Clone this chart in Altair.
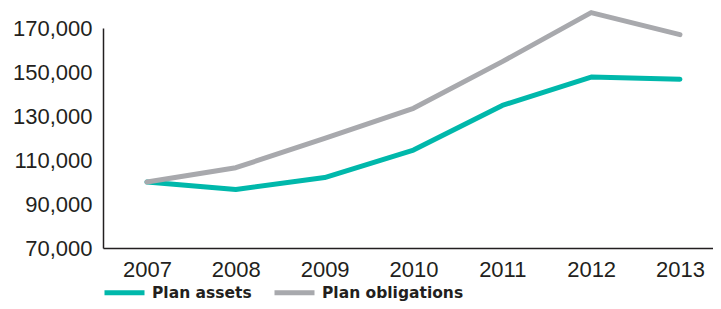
import altair as alt
import pandas as pd

years = [2007, 2008, 2009, 2010, 2011, 2012, 2013]
plan_assets = [100000, 96600, 102000, 114500, 134800, 147700, 146700]
plan_obligations = [100000, 106500, 119800, 133500, 154700, 177000, 167000]
series_names = ["Plan assets", "Plan obligations"]
series_colors = ["#00B8AB", "#A8A9AD"]
y_ticks = [70000, 90000, 110000, 130000, 150000, 170000]

rows = []
for name, vals in zip(series_names, [plan_assets, plan_obligations]):
    for yr, v in zip(years, vals):
        rows.append({"year": yr, "value": v, "series": name})
df = pd.DataFrame(rows)

chart = alt.Chart(df).mark_line(strokeWidth=5, strokeCap="round", strokeJoin="round").encode(
    x=alt.X("year:Q",
            scale=alt.Scale(domain=[2006.505, 2013.372], nice=False, zero=False),
            axis=alt.Axis(values=years, format="d", title=None, ticks=False, grid=False,
                          labelPadding=11.5, labelFontSize=22, labelFont="Liberation Sans",
                          labelColor="#231F20", domainColor="#231F20", domainWidth=1.5,
                          labelFlush=False)),
    y=alt.Y("value:Q",
            scale=alt.Scale(domain=[70000, 170000], nice=False, zero=False),
            axis=alt.Axis(values=y_ticks, format=",.0f", title=None, ticks=False, grid=False,
                          labelPadding=11, labelFontSize=22, labelFont="Liberation Sans",
                          labelColor="#231F20", domainColor="#231F20", domainWidth=1.5,
                          labelFlush=False)),
    color=alt.Color("series:N",
                    scale=alt.Scale(domain=series_names, range=series_colors),
                    legend=alt.Legend(title=None, orient="none", direction="horizontal",
                                      legendX=-1, legendY=242,
                                      symbolType="stroke", symbolSize=1600,
                                      symbolStrokeWidth=5, labelOffset=5,
                                      columnPadding=12, padding=0,
                                      labelFont="DejaVu Sans", labelFontWeight="bold",
                                      labelFontSize=15.5, labelColor="#231F20")),
).properties(
    width=610, height=220,
    autosize=alt.AutoSizeParams(type="none"),
    padding={"left": 95, "top": 20, "right": 0, "bottom": 53},
).configure_view(stroke=None)

chart.save("out.html", embed_options={"renderer": "svg", "actions": False})
